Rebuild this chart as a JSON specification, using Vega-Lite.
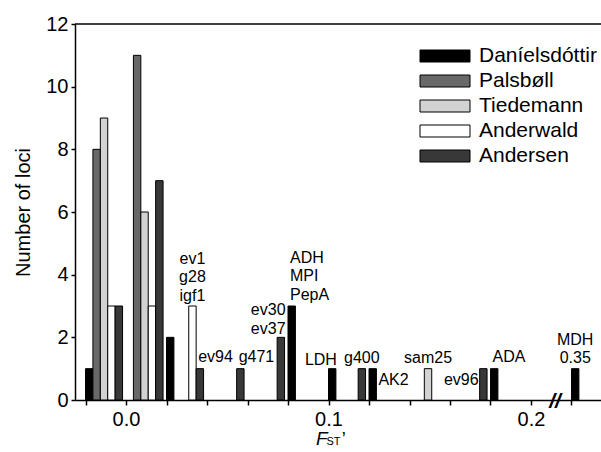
{
  "$schema": "https://vega.github.io/schema/vega-lite/v6.json",
  "autosize": "none",
  "width": 526,
  "height": 376,
  "padding": {"left": 75, "top": 24, "right": 0, "bottom": 52},
  "background": "white",
  "config": {
    "view": {"stroke": null},
    "font": "Liberation Sans",
    "axis": {"labelFont": "Liberation Sans", "titleFont": "Liberation Sans", "labelColor": "black", "titleColor": "black", "domainColor": "black", "tickColor": "black", "grid": false}
  },
  "data": {
    "values": [
      {"bin": -0.02, "series": "Daníelsdóttir", "n": 1},
      {"bin": -0.02, "series": "Palsbøll", "n": 8},
      {"bin": -0.02, "series": "Tiedemann", "n": 9},
      {"bin": -0.02, "series": "Anderwald", "n": 3},
      {"bin": -0.02, "series": "Andersen", "n": 3},
      {"bin": 0.0, "series": "Palsbøll", "n": 11},
      {"bin": 0.0, "series": "Tiedemann", "n": 6},
      {"bin": 0.0, "series": "Anderwald", "n": 3},
      {"bin": 0.0, "series": "Andersen", "n": 7},
      {"bin": 0.02, "series": "Daníelsdóttir", "n": 2},
      {"bin": 0.02, "series": "Anderwald", "n": 3, "loci": "ev1\ng28\nigf1"},
      {"bin": 0.02, "series": "Andersen", "n": 1, "loci": "ev94"},
      {"bin": 0.04, "series": "Andersen", "n": 1, "loci": "g471"},
      {"bin": 0.06, "series": "Andersen", "n": 2, "loci": "ev30\nev37"},
      {"bin": 0.08, "series": "Daníelsdóttir", "n": 3, "loci": "ADH\nMPI\nPepA"},
      {"bin": 0.1, "series": "Daníelsdóttir", "n": 1, "loci": "LDH"},
      {"bin": 0.1, "series": "Andersen", "n": 1, "loci": "g400"},
      {"bin": 0.12, "series": "Daníelsdóttir", "n": 1, "loci": "AK2"},
      {"bin": 0.14, "series": "Tiedemann", "n": 1, "loci": "sam25"},
      {"bin": 0.16, "series": "Andersen", "n": 1, "loci": "ev96"},
      {"bin": 0.18, "series": "Daníelsdóttir", "n": 1, "loci": "ADA"},
      {"bin": 0.22, "series": "Daníelsdóttir", "n": 1, "loci": "MDH\n0.35"}
    ]
  },
  "transform": [
    {"calculate": "datum.bin + indexof(['Daníelsdóttir','Palsbøll','Tiedemann','Anderwald','Andersen'], datum.series) * 0.00366", "as": "x0"},
    {"calculate": "datum.x0 + 0.00366", "as": "x1"},
    {"calculate": "datum.x0 + 0.00183", "as": "xc"}
  ],
  "layer": [
    {
      "mark": {"type": "rule", "color": "black", "strokeWidth": 1.5},
      "data": {"values": [{}]},
      "encoding": {"y": {"datum": 12, "type": "quantitative", "scale": {"domain": [0, 12]}}}
    },
    {
      "mark": {"type": "bar", "stroke": "black", "strokeWidth": 1, "opacity": 1},
      "encoding": {
        "x": {
          "field": "x0", "type": "quantitative",
          "scale": {"domain": [-0.02519, 0.23457], "nice": false, "zero": false},
          "axis": {
            "title": null,
            "values": [-0.02, 0, 0.02, 0.04, 0.06, 0.08, 0.1, 0.12, 0.14, 0.16, 0.18, 0.2, 0.22],
            "labelExpr": "indexof([0, 0.1, 0.2], datum.value) >= 0 ? format(datum.value, '.1f') : ''",
            "labelFontSize": 20, "labelPadding": 4, "tickSize": 5, "tickWidth": 1.5, "domainWidth": 1.5, "labelFlush": false, "labelOverlap": false
          }
        },
        "x2": {"field": "x1"},
        "y": {
          "field": "n", "type": "quantitative",
          "scale": {"domain": [0, 12], "nice": false},
          "axis": {
            "title": "Number of loci",
            "values": [0, 1, 2, 3, 4, 5, 6, 7, 8, 9, 10, 11, 12],
            "labelExpr": "datum.value % 2 == 0 ? datum.label : ''",
            "labelFontSize": 20, "labelPadding": 3, "tickSize": 4, "tickWidth": 1.5, "domainWidth": 1.5,
            "titleFontSize": 20, "titleFontWeight": "normal", "titlePadding": 12, "labelOverlap": false
          }
        },
        "y2": {"datum": 0},
        "color": {
          "field": "series", "type": "nominal",
          "scale": {
            "domain": ["Daníelsdóttir", "Palsbøll", "Tiedemann", "Anderwald", "Andersen"],
            "range": ["#000000", "#686868", "#d2d2d2", "#ffffff", "#383838"]
          },
          "legend": {
            "title": null,
            "orient": "none",
            "legendX": 359.5,
            "legendY": 21.5,
            "padding": 0,
            "symbolType": "M-4.1667,-1H4.1667V1H-4.1667Z",
            "symbolSize": 144,
            "symbolStrokeColor": "black",
            "symbolStrokeWidth": 1,
            "symbolOpacity": 1,
            "labelFont": "Liberation Sans",
            "labelFontSize": 21,
            "labelColor": "black",
            "labelOffset": 23.5,
            "rowPadding": 3,
            "labelLimit": 300
          }
        }
      }
    },
    {
      "transform": [{"filter": {"field": "loci", "oneOf": ["ev94", "g471", "ADH\nMPI\nPepA", "ADA"]}}],
      "mark": {"type": "text", "align": "left", "baseline": "alphabetic", "dx": 2, "dy": {"expr": "-6.5 - 18.5 * (length(split(datum.loci, '\\n')) - 1)"}, "fontSize": 16, "lineBreak": "\n", "lineHeight": 18.5, "color": "black", "font": "Liberation Sans"},
      "encoding": {"x": {"field": "x0", "type": "quantitative"}, "y": {"field": "n", "type": "quantitative"}, "text": {"field": "loci"}}
    },
    {
      "transform": [{"filter": {"field": "loci", "oneOf": ["ev1\ng28\nigf1", "g400", "sam25", "MDH\n0.35"]}}],
      "mark": {"type": "text", "align": "center", "baseline": "alphabetic", "dy": {"expr": "-5.5 - 18.5 * (length(split(datum.loci, '\\n')) - 1)"}, "fontSize": 16, "lineBreak": "\n", "lineHeight": 18.5, "color": "black", "font": "Liberation Sans"},
      "encoding": {"x": {"field": "xc", "type": "quantitative"}, "y": {"field": "n", "type": "quantitative"}, "text": {"field": "loci"}}
    },
    {
      "transform": [{"filter": {"field": "loci", "oneOf": ["ev30\nev37", "LDH"]}}],
      "mark": {"type": "text", "align": "right", "baseline": "alphabetic", "dx": 1, "dy": {"expr": "-3.5 - 18.5 * (length(split(datum.loci, '\\n')) - 1)"}, "fontSize": 16, "lineBreak": "\n", "lineHeight": 18.5, "color": "black", "font": "Liberation Sans"},
      "encoding": {"x": {"field": "x1", "type": "quantitative"}, "y": {"field": "n", "type": "quantitative"}, "text": {"field": "loci"}}
    },
    {
      "transform": [{"filter": {"field": "loci", "oneOf": ["AK2"]}}],
      "mark": {"type": "text", "align": "left", "baseline": "alphabetic", "dx": 2, "dy": 16, "fontSize": 16, "color": "black", "font": "Liberation Sans"},
      "encoding": {"x": {"field": "x1", "type": "quantitative"}, "y": {"field": "n", "type": "quantitative"}, "text": {"field": "loci"}}
    },
    {
      "transform": [{"filter": {"field": "loci", "oneOf": ["ev96"]}}],
      "mark": {"type": "text", "align": "right", "baseline": "alphabetic", "dx": -1, "dy": 16, "fontSize": 16, "color": "black", "font": "Liberation Sans"},
      "encoding": {"x": {"field": "x0", "type": "quantitative"}, "y": {"field": "n", "type": "quantitative"}, "text": {"field": "loci"}}
    },
    {
      "data": {"values": [{}]},
      "mark": {"type": "text", "text": "//", "align": "center", "baseline": "middle", "dy": 2, "fontSize": 21, "fontWeight": "bold", "fontStyle": "italic", "color": "black", "font": "Liberation Sans"},
      "encoding": {"x": {"datum": 0.2119, "type": "quantitative"}, "y": {"datum": 0, "type": "quantitative"}}
    },
    {
      "data": {"values": [{}]},
      "mark": {"type": "text", "text": "F", "align": "left", "baseline": "alphabetic", "dy": 45, "fontSize": 19, "fontStyle": "italic", "color": "black", "font": "Liberation Sans"},
      "encoding": {"x": {"datum": 0.0938, "type": "quantitative"}, "y": {"datum": 0, "type": "quantitative"}}
    },
    {
      "data": {"values": [{}]},
      "mark": {"type": "text", "text": "ST", "align": "left", "baseline": "alphabetic", "dy": 45, "fontSize": 11, "color": "black", "font": "Liberation Sans"},
      "encoding": {"x": {"datum": 0.0990, "type": "quantitative"}, "y": {"datum": 0, "type": "quantitative"}}
    },
    {
      "data": {"values": [{}]},
      "mark": {"type": "text", "text": "’", "align": "left", "baseline": "alphabetic", "dy": 45, "fontSize": 18, "color": "black", "font": "Liberation Sans"},
      "encoding": {"x": {"datum": 0.1065, "type": "quantitative"}, "y": {"datum": 0, "type": "quantitative"}}
    }
  ]
}
